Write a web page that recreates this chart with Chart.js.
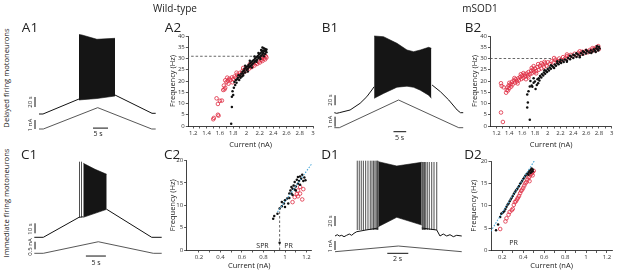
<!DOCTYPE html>
<html>
<head>
<meta charset="utf-8">
<script src="https://cdn.jsdelivr.net/npm/chart.js@4.4.1/dist/chart.umd.min.js"></script>
<style>
  body { margin: 0; background: #fff; }
  #fig { position: relative; width: 617px; height: 271px; overflow: hidden; font-family: 'Open Sans', sans-serif; color: #222; }
  .box { position: absolute; }
  .lbl { position: absolute; white-space: nowrap; line-height: 1; transform: translate(-50%, -50%); }
</style>
</head>
<body>
<div id="fig"></div>
<script>
'use strict';

// --- traces (time s, voltage mV from the 20 mV bar, current nA) ---
const a1Before = [[0, 0], [1.33, 0], [13.33, 30]];
const a1BurstTop = [[13.33, 159], [14.33, 158], [19.3, 149.4], [25.33, 151.4]];
const a1BurstBottom = [[13.33, 28], [14.33, 28.6], [19.3, 31], [25.33, 36]];
const a1After = [[25.33, 38], [37.67, 1.4], [38.9, 1.4]];
const a1Current = [[0, 0], [1.43, 0], [19.57, 2.37], [37.57, 0], [38.9, 0]];

const b1Before = [[0, 0], [0.95, -1.2], [1.98, 0], [6.21, 5.4], [10.16, 18.8], [12.81, 32], [14.78, 45.4], [15.69, 52]];
const b1BurstTop = [[15.69, 153.4], [19.37, 152], [24.66, 138.8], [28.62, 125.4], [31.23, 122], [33.87, 125.4], [37.15, 130.8], [38.22, 128.8]];
const b1BurstBottom = [[15.69, 28.8], [19.37, 38.5], [24.66, 51], [28.62, 53], [31.23, 50.8], [33.87, 45], [37.15, 35], [38.22, 28.8]];
const b1After = [[38.5, 55.4], [41.78, 42], [45.06, 25.4], [48.38, 5.4], [49.68, 0], [50.75, 0]];
const b1Current = [[0, 0], [1.98, 0], [25.3, 2.77], [49.0, 0], [50.75, 0]];

const c1Before = [[0, 0], [2.25, 0], [11.18, 20], [12.25, 20.5]];
const c1Spikes = [11.3, 11.8];
const c1BurstTop = [[12.25, 74], [15.18, 68], [18.1, 63]];
const c1BurstBottom = [[12.25, 20], [15.18, 24], [18.1, 28]];
const c1After = [[18.1, 28], [29.35, 0], [31.85, 0]];
const c1Current = [[0, 0], [2.25, 0], [16, 0.76], [29.75, 0], [31.85, 0]];

const d1Before = [[0, 0], [0.22, 2.6], [0.41, 0], [0.64, 1.4], [0.86, -1.4], [1.11, 1.4], [1.36, 4], [1.59, 1.4], [1.81, 5.4], [2.07, 8.6], [2.95, 12], [4.12, 16]];
const d1SpikesLeft = [2.12, 2.31, 2.5, 2.7, 2.92, 3.14, 3.36, 3.52, 3.66, 3.8, 3.92, 4.02, 4.08];
const d1SpikesRight = [8.32, 8.41, 8.52, 8.64, 8.79, 8.98, 9.21, 9.43, 9.69];
const d1BurstTop = [[4.12, 148.6], [5.88, 140], [8.26, 147.4]];
const d1BurstBottom = [[4.12, 18.6], [5.88, 37.4], [8.26, 22]];
const d1After = [[8.26, 16], [9.69, 12], [10, 0], [10.31, 4], [10.64, 0], [10.95, 2.6], [11.27, -1.4], [11.59, 1.4], [12.07, 0]];
const d1Current = [[0, 0], [6.03, 0.63], [12.07, 0]];

// scale bars
const a1Bars = { v: [[-1.33, 14], [-1.33, 34]], i: [[-1.33, 0], [-1.33, 1]], t: [[18, 0.1], [23, 0.1]] };
const b1Bars = { v: [[0.3, 15], [0.3, 35]], i: [[0.3, 0.1], [0.3, 1.1]], t: [[23.3, -0.4], [28.3, -0.4]] };
const c1Bars = { v: [[0.18, 4], [0.18, 14]], i: [[0.18, 0.26], [0.18, 0.76]], t: [[12.9, -0.18], [17.9, -0.18]] };
const d1Bars = { v: [[0, 20], [0, 40]], i: [[0, 0.19], [0, 1.19]], t: [[4.98, -0.18], [6.98, -0.18]] };

// --- f-I relations (current nA, frequency Hz) ---
const a2Black = [[1.77,1],[1.78,8.5],[1.78,13],[1.8,13.8],[1.79,15.5],[1.81,17],[1.83,18.2],[1.82,19.6],[1.85,19.2],[1.86,20.8],[1.87,21.5],[1.89,20.4],[1.9,22.3],[1.91,21.4],[1.92,23.2],[1.93,22],[1.94,24.1],[1.95,23.2],[1.96,24.6],[1.97,25.4],[1.98,23.8],[1.99,25.9],[2.0,24.9],[2.01,26.4],[2.02,25.5],[2.03,27.1],[2.04,26.2],[2.05,27.8],[2.06,26.7],[2.07,28.3],[2.08,27.2],[2.09,28.9],[2.1,27.8],[2.11,29.3],[2.12,28.4],[2.13,30],[2.14,29],[2.15,30.6],[2.16,29.5],[2.17,31.1],[2.18,30.2],[2.19,31.8],[2.2,30.6],[2.21,32.3],[2.22,31.2],[2.23,33],[2.24,31.8],[2.25,33.6],[2.25,32.4],[2.26,34.6],[2.27,33.2],[2.28,34.2],[2.28,32],[2.29,33.5],[2.3,32.8],[2.24,34.9],[2.26,31],[2.21,29.8],[2.15,28.6],[2.08,26],[2.02,24.2],[1.95,22.4],[1.88,22.6],[1.84,20.4],[2.18,32.5],[2.12,30.9],[2.05,29],[1.98,26.8],[2.3,34],[2.22,33.8]];
const a2Red = [[1.5,3],[1.51,3.6],[1.57,5],[1.58,4.6],[1.55,12.3],[1.57,9.8],[1.6,11.2],[1.63,11.3],[1.65,16],[1.67,16.3],[1.68,17],[1.66,18],[1.7,19.5],[1.72,20.2],[1.68,20.3],[1.74,21],[1.73,18.8],[1.76,20.5],[1.78,21.6],[1.8,20.8],[1.82,22],[1.84,21.4],[1.86,22.8],[1.88,22.2],[1.9,23.6],[1.92,23],[1.94,24.5],[1.96,24],[1.98,25.2],[2.0,24.6],[2.02,26],[2.04,25.5],[2.06,26.6],[2.08,26.2],[2.1,27.4],[2.12,26.9],[2.14,28],[2.16,27.6],[2.18,28.6],[2.2,28.2],[2.22,29.3],[2.24,28.9],[2.26,30],[2.28,29.6],[2.29,31],[2.27,31.5],[2.25,30.8],[2.3,30.4],[2.23,30.1],[1.79,19.4],[1.71,21.5],[1.85,23.7],[1.95,25.8],[2.05,27.5]];
const a2Threshold = [[1.1, 31], [2.28, 31]];

const b2Black = [[1.72,2.8],[1.68,8.2],[1.69,10.4],[1.68,14],[1.7,15.5],[1.72,17.6],[1.73,20],[1.75,18],[1.76,17.4],[1.78,19.2],[1.8,19.8],[1.81,16.4],[1.83,18.2],[1.84,20.8],[1.86,21.2],[1.87,20.2],[1.88,22.2],[1.9,21.6],[1.91,23],[1.93,22.4],[1.94,23.8],[1.96,23.2],[1.97,24.6],[1.99,24],[2.0,25.3],[2.02,24.7],[2.03,26],[2.05,25.4],[2.07,26.7],[2.09,26.1],[2.11,27.3],[2.13,26.8],[2.15,27.9],[2.17,27.4],[2.19,28.5],[2.21,28],[2.23,29.1],[2.25,28.5],[2.27,29.6],[2.3,29.1],[2.32,30.2],[2.35,29.7],[2.37,30.8],[2.4,30.2],[2.42,31.3],[2.45,30.7],[2.47,31.8],[2.5,31.2],[2.52,32.3],[2.55,31.7],[2.57,32.8],[2.6,32.2],[2.62,33.2],[2.65,32.7],[2.67,33.7],[2.7,33.1],[2.72,34.1],[2.74,33.5],[2.76,34.6],[2.78,34],[2.8,35.2],[2.79,33.6],[2.77,35.5],[2.81,34.5],[2.75,32.9],[2.6,33.8],[2.4,31.7],[2.2,29.5],[2.05,27],[1.95,24.8],[2.1,25.8],[2.3,28.6],[2.5,30.6],[2.68,32.4],[1.78,21.2],[1.85,19],[2.35,31.2],[2.55,33.2],[2.15,28.8],[2.45,32.3]];
const b2Red = [[1.27,6],[1.3,1.8],[1.27,19],[1.28,17.8],[1.31,17.2],[1.35,14.8],[1.36,16],[1.37,17.2],[1.38,15.8],[1.39,18],[1.4,19.2],[1.4,16.8],[1.42,18.6],[1.44,19.6],[1.45,18.4],[1.47,20.2],[1.49,19.3],[1.5,20.8],[1.52,19.8],[1.54,21.2],[1.55,20.3],[1.57,21.8],[1.59,20.9],[1.6,22.4],[1.62,21.4],[1.64,22.9],[1.65,22],[1.67,23.3],[1.69,22.4],[1.7,24],[1.72,23],[1.74,24.5],[1.75,23.4],[1.77,25],[1.79,24],[1.8,25.6],[1.82,24.4],[1.84,26.2],[1.86,25],[1.88,26.8],[1.9,25.6],[1.92,27.3],[1.94,26.3],[1.96,27.8],[1.98,26.8],[2.0,28.3],[2.03,27.5],[2.06,28.8],[2.09,28.2],[2.12,29.5],[2.15,28.9],[2.18,30],[2.21,29.4],[2.24,30.6],[2.27,30],[2.3,31.1],[2.33,30.5],[2.36,31.6],[2.39,31],[2.42,32.1],[2.45,31.5],[2.48,32.5],[2.51,32],[2.54,33],[2.57,32.4],[2.6,33.4],[2.63,32.8],[2.66,33.8],[2.69,33.3],[2.72,34.2],[2.75,33.6],[2.78,34.8],[2.8,34.2],[2.79,35.5],[2.76,35],[1.85,27.5],[1.95,28.5],[1.62,23.5],[1.48,21.3],[1.75,25.8],[2.1,30.2],[2.3,31.8],[2.5,33.2],[2.7,34.6],[1.43,17.5],[1.53,18.9],[1.66,20.8],[1.58,23],[1.7,21.6],[1.82,23.4],[1.9,27.9],[1.78,26.6]];
const b2Threshold = [[1.1, 30], [2.05, 30]];

const c2Black = [[0.89,7],[0.9,7.6],[0.93,8.1],[0.95,1.6],[0.95,9.3],[0.97,9.8],[0.97,10.7],[0.99,10.4],[1.0,11.1],[1.0,9.6],[1.02,11.5],[1.03,10.4],[1.04,12.6],[1.04,11.6],[1.05,13.3],[1.06,12.6],[1.07,13.7],[1.07,12.3],[1.08,14.4],[1.09,13.5],[1.09,15.2],[1.1,14.2],[1.11,15.7],[1.12,14.8],[1.12,16.3],[1.13,15.4],[1.14,16.4],[1.15,15.9],[1.16,16.8],[1.17,15.4],[1.18,16.2],[1.19,15.6],[1.06,14.1],[1.1,13.3],[1.14,14.6]];
const c2Red = [[1.07,10.7],[1.09,11.8],[1.12,12],[1.14,12.6],[1.16,11.3],[1.12,13.3],[1.14,14.1],[1.17,13.6],[1.11,12.5]];
const c2Fit = [[0.93, 8.5], [1.27, 20]];
const c2Boundary = [[0.95, 0], [0.95, 9.5]];

const d2Black = [[0.14,4.5],[0.16,5.8],[0.18,7.5],[0.19,8.2],[0.2,8.4],[0.21,8.6],[0.22,8.8],[0.23,9.3],[0.24,9.8],[0.25,10.2],[0.26,10.5],[0.27,11],[0.28,11.4],[0.29,11.8],[0.3,12.2],[0.31,12.6],[0.32,13],[0.33,13.4],[0.34,13.7],[0.35,14.1],[0.36,14.4],[0.37,14.9],[0.38,15.2],[0.39,15.6],[0.4,16],[0.41,16.3],[0.42,16.7],[0.43,17],[0.44,17.2],[0.45,17.5],[0.46,17.8],[0.47,18],[0.48,18.3],[0.49,18.1],[0.48,17.6],[0.47,17.3],[0.49,17.7],[0.45,16.9]];
const d2Red = [[0.18,4.8],[0.23,6.5],[0.24,7.2],[0.26,8],[0.27,8.6],[0.29,9],[0.3,9.3],[0.31,10.2],[0.32,10.8],[0.33,11],[0.34,11.4],[0.35,11.8],[0.36,12.2],[0.37,12.8],[0.38,13.3],[0.39,13.6],[0.4,14],[0.41,14.5],[0.42,15],[0.43,15.3],[0.44,15.8],[0.45,16.3],[0.46,16.5],[0.47,17],[0.48,17.2],[0.49,17.5],[0.5,17.8],[0.49,16.8],[0.46,15.5]];
const d2Fit = [[0.09, 4.3], [0.51, 20.2]];

// ticks
const topXTicks = [1.2, 1.3, 1.4, 1.5, 1.6, 1.7, 1.8, 1.9, 2.0, 2.1, 2.2, 2.3, 2.4, 2.5, 2.6, 2.7, 2.8, 2.9, 3.0];
const topXLabels = [1.2, 1.4, 1.6, 1.8, 2, 2.2, 2.4, 2.6, 2.8, 3];
const topYTicks = [0, 5, 10, 15, 20, 25, 30, 35, 40];
const botXTicks = [0.2, 0.3, 0.4, 0.5, 0.6, 0.7, 0.8, 0.9, 1.0, 1.1, 1.2];
const botXLabels = [0.2, 0.4, 0.6, 0.8, 1, 1.2];
const botYTicks = [0, 5, 10, 15, 20];

Chart.defaults.font.family = "'Open Sans', sans-serif";
Chart.defaults.animation = false;

const fig = document.getElementById('fig');
const pts = arr => arr.map(([x, y]) => ({ x, y }));

function addCanvas(box) {
  const c = document.createElement('canvas');
  c.className = 'box';
  c.style.left = box[0] + 'px';
  c.style.top = box[1] + 'px';
  c.width = box[2];
  c.height = box[3];
  c.style.width = box[2] + 'px';
  c.style.height = box[3] + 'px';
  fig.appendChild(c);
  return c;
}

function label(text, x, y, size, rot) {
  const d = document.createElement('div');
  d.className = 'lbl';
  d.textContent = text;
  d.style.left = x + 'px';
  d.style.top = y + 'px';
  d.style.fontSize = size + 'px';
  if (rot) d.style.transform = 'translate(-50%, -50%) rotate(-90deg)';
  fig.appendChild(d);
}

// value range covering pixels lo..hi, given two anchors [v0, p0, v1, p1]
function range(a, lo, hi) {
  const f = p => a[0] + (p - a[1]) * (a[2] - a[0]) / (a[3] - a[1]);
  const r = [f(lo), f(hi)];
  return { min: Math.min(...r), max: Math.max(...r) };
}

function spikeLines(times, lo, hi) {
  return times.flatMap(t => [{ x: t, y: lo }, { x: t, y: hi }, { x: t, y: null }]);
}

function line(data, axis, color, width, extra) {
  return Object.assign({ data, yAxisID: axis, showLine: true, pointRadius: 0, borderColor: color, borderWidth: width, fill: false, spanGaps: false }, extra || {});
}

function traceChart(box, anchors, p) {
  const ds = [
    line(pts(p.before), 'v', '#111', 1),
    line(pts(p.top), 'v', '#111', 0.6, { fill: '+1', backgroundColor: '#151515' }),
    line(pts(p.bottom), 'v', '#111', 0.6),
    line(pts(p.after), 'v', '#111', 1),
    line(pts(p.current), 'i', '#444', 0.9),
    line(pts(p.bars.v), 'v', '#111', 1),
    line(pts(p.bars.i), 'i', '#111', 1),
    line(pts(p.bars.t), 'i', '#111', 1),
  ];
  (p.spikes || []).forEach(s => ds.push(line(spikeLines(s.times, s.lo, s.hi), 'v', '#222', 0.8)));
  new Chart(addCanvas(box), {
    type: 'scatter',
    data: { datasets: ds },
    options: {
      responsive: false,
      layout: { padding: 0 },
      plugins: { legend: { display: false }, tooltip: { enabled: false } },
      scales: {
        x: Object.assign({ type: 'linear', display: false }, range(anchors.t, box[0], box[0] + box[2])),
        v: Object.assign({ type: 'linear', display: false, position: 'left' }, range(anchors.v, box[1], box[1] + box[3])),
        i: Object.assign({ type: 'linear', display: false, position: 'left' }, range(anchors.i, box[1], box[1] + box[3])),
      },
    },
  });
}

const fmt = v => String(+v.toFixed(1));

function axisCfg(ticks, labels, lim, fit, title) {
  return {
    type: 'linear',
    min: lim[0], max: lim[1],
    afterBuildTicks: s => { s.ticks = ticks.map(v => ({ value: v })); },
    afterFit: fit,
    ticks: {
      autoSkip: false, maxRotation: 0, padding: 1, color: '#333', font: { size: 6 },
      callback: v => { const k = labels.find(l => Math.abs(l - v) < 1e-6); return k === undefined ? '' : fmt(k); },
    },
    grid: { display: true, drawOnChartArea: false, drawTicks: true, tickLength: 2.5, color: '#111', lineWidth: 0.7 },
    border: { display: true, color: '#111', width: 0.8 },
    title,
  };
}

function scatterChart(box, area, xr, yr, xT, xL, yT, titlePad, sets) {
  const yWidth = area.l - box[0];
  const xHeight = box[1] + box[3] - area.b;
  const ds = [];
  if (sets.fit) ds.push(line(pts(sets.fit), 'y', '#4aa8d8', 1.1, { borderDash: [1.5, 1.5] }));
  ds.push({ data: pts(sets.black), yAxisID: 'y', pointRadius: 1.25, pointStyle: 'circle', backgroundColor: '#111', borderWidth: 0 });
  ds.push({ data: pts(sets.red), yAxisID: 'y', pointRadius: 1.8, pointStyle: 'circle', backgroundColor: 'rgba(0,0,0,0)', borderColor: '#de2a40', borderWidth: 0.8 });
  if (sets.dash) ds.push(line(pts(sets.dash), 'y', '#555', 0.9, { borderDash: [2.5, 2] }));
  new Chart(addCanvas(box), {
    type: 'scatter',
    data: { datasets: ds },
    options: {
      responsive: false,
      layout: { padding: { left: 0, top: area.t - box[1], right: box[0] + box[2] - area.r, bottom: 0 } },
      plugins: { legend: { display: false }, tooltip: { enabled: false } },
      scales: {
        x: axisCfg(xT, xL, xr, s => { s.height = xHeight; },
          { display: true, text: 'Current (nA)', color: '#222', font: { size: 7.5 }, padding: { top: 0, bottom: 1 } }),
        y: Object.assign(axisCfg(yT, yT, yr, s => { s.width = yWidth; },
          { display: true, text: 'Frequency (Hz)', color: '#222', font: { size: 7.5 }, padding: { top: titlePad, bottom: 0 } }), { position: 'left' }),
      },
    },
  });
}

// traces
traceChart([22, 28, 140, 114], { t: [0, 39, 5, 54], v: [0, 114, 20, 104], i: [0, 129, 1, 120] },
  { before: a1Before, top: a1BurstTop, bottom: a1BurstBottom, after: a1After, current: a1Current, bars: a1Bars });
traceChart([322, 28, 145, 114], { t: [0, 334.3, 5, 347], v: [0, 112.7, 20, 102.7], i: [0, 127.7, 1, 117.7] },
  { before: b1Before, top: b1BurstTop, bottom: b1BurstBottom, after: b1After, current: b1Current, bars: b1Bars });
traceChart([22, 150, 145, 121], { t: [0, 34.3, 5, 54.3], v: [0, 237.3, 10, 227.3], i: [0, 253.3, 0.5, 245.7] },
  { before: c1Before, top: c1BurstTop, bottom: c1BurstBottom, after: c1After, current: c1Current, bars: c1Bars,
    spikes: [{ times: c1Spikes, lo: 20, hi: 75.6 }] });
traceChart([322, 150, 145, 121], { t: [0, 335, 2, 356], v: [0, 236, 20, 226], i: [0, 251.7, 1, 242.7] },
  { before: d1Before, top: d1BurstTop, bottom: d1BurstBottom, after: d1After, current: d1Current, bars: d1Bars,
    spikes: [{ times: d1SpikesLeft, lo: 12, hi: 150.6 }, { times: d1SpikesRight, lo: 12, hi: 148 }] });

// f-I plots
scatterChart([158, 28, 160, 122], { l: 188.3, r: 313, t: 36, b: 126 }, [1.125, 3.0], [0, 40],
  topXTicks, topXLabels, topYTicks, 10, { black: a2Black, red: a2Red, dash: a2Threshold });
scatterChart([458, 28, 159, 122], { l: 490.5, r: 611.7, t: 36, b: 126 }, [1.106, 3.0], [0, 40],
  topXTicks, topXLabels, topYTicks, 12.5, { black: b2Black, red: b2Red, dash: b2Threshold });
scatterChart([158, 152, 160, 119], { l: 186.6, r: 311.9, t: 160.5, b: 250 }, [0.085, 1.25], [0, 20],
  botXTicks, botXLabels, botYTicks, 10.5, { black: c2Black, red: c2Red, fit: c2Fit, dash: c2Boundary });
scatterChart([458, 152, 159, 119], { l: 491, r: 612.5, t: 161, b: 250.5 }, [0.092, 1.25], [0, 20],
  botXTicks, botXLabels, botYTicks, 11.5, { black: d2Black, red: d2Red, fit: d2Fit });

// text
label('Wild-type', 175, 8, 10);
label('mSOD1', 480, 8, 10);
label('A1', 30, 28, 13.5);
label('A2', 173, 28, 13.5);
label('B1', 330, 28, 13.5);
label('B2', 473, 28, 13.5);
label('C1', 29, 155, 13.5);
label('C2', 172, 155, 13.5);
label('D1', 330, 155, 13.5);
label('D2', 473, 155, 13.5);
label('Delayed firing motoneurons', 7, 78, 7.6, true);
label('Immediate firing motoneurons', 7, 203, 7.6, true);

label('20 s', 29.5, 102, 6, true);
label('1 nA', 29.5, 125, 6, true);
label('5 s', 98, 133, 7);
label('20 s', 329.5, 99.5, 6, true);
label('1 nA', 329.5, 122, 6, true);
label('5 s', 399.5, 136.5, 7);
label('10 s', 29.5, 229, 6, true);
label('0.5 nA', 29.5, 246.5, 6, true);
label('5 s', 96, 261.5, 7);
label('20 s', 329.5, 220.5, 6, true);
label('1 nA', 329.5, 245.5, 6, true);
label('2 s', 397.5, 257.5, 7);

label('SPR', 262.5, 245, 7);
label('PR', 288.5, 245, 7);
label('PR', 513.5, 242, 7);
</script>
</body>
</html>
